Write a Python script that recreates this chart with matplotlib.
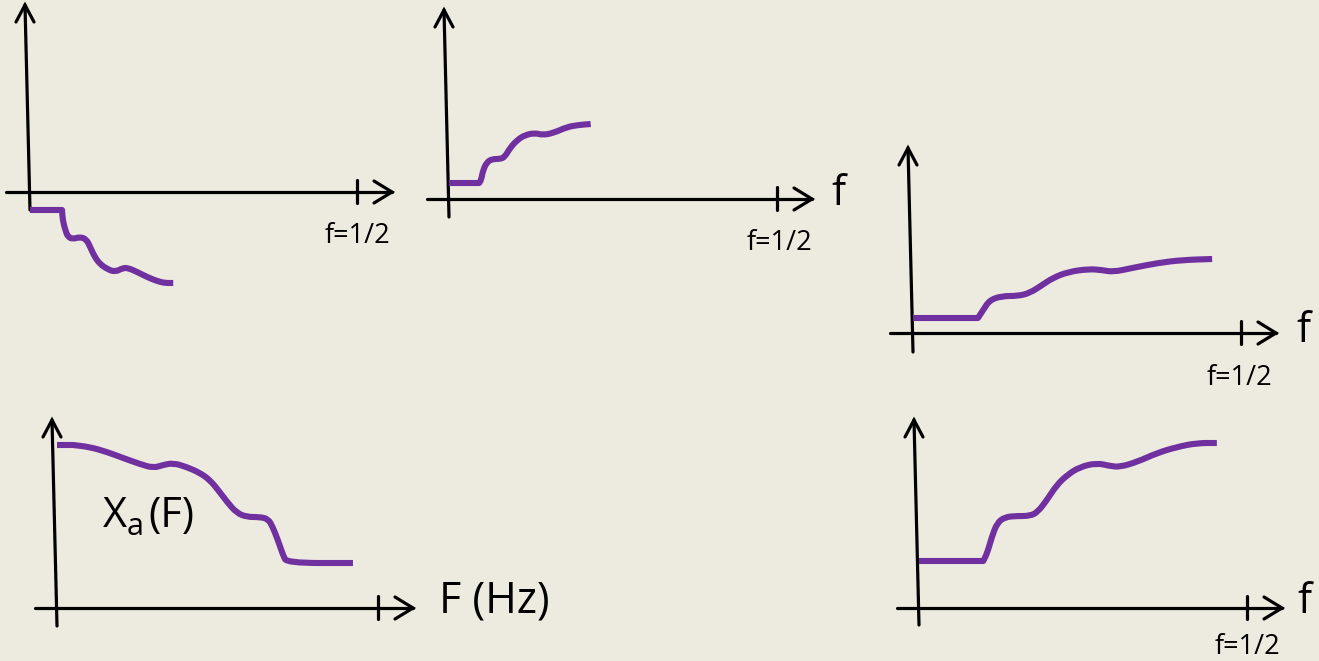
import matplotlib
matplotlib.use("Agg")
import matplotlib.pyplot as plt
from matplotlib.path import Path
from matplotlib.patches import PathPatch

# ---- spectra (x: normalised frequency f, or F for the analog one; y: amplitude) ----
# sampled spectrum, inverted below the axis
f1 = [0.000, 0.049, 0.050, 0.054, 0.058, 0.066, 0.076, 0.086, 0.092, 0.099, 0.107,
      0.118, 0.130, 0.142, 0.150, 0.164, 0.179, 0.194, 0.206, 0.219]
a1 = [-0.18, -0.18, -0.28, -0.38, -0.45, -0.47, -0.45, -0.47, -0.55, -0.65, -0.72,
      -0.77, -0.80, -0.76, -0.76, -0.80, -0.85, -0.89, -0.91, -0.91]

# compressed spectrum (top middle)
f2 = [0.000, 0.046, 0.049, 0.052, 0.058, 0.066, 0.078, 0.085, 0.093, 0.104, 0.116,
      0.131, 0.143, 0.159, 0.180, 0.197, 0.216]
a2 = [0.16, 0.16, 0.19, 0.29, 0.37, 0.40, 0.40, 0.42, 0.51, 0.59, 0.64,
      0.66, 0.64, 0.66, 0.72, 0.74, 0.75]

# stretched spectrum (right middle)
f3 = [0.000, 0.099, 0.107, 0.117, 0.136, 0.160, 0.178, 0.197, 0.213, 0.236, 0.267,
      0.288, 0.305, 0.334, 0.373, 0.410, 0.456]
a3 = [0.15, 0.15, 0.23, 0.33, 0.37, 0.37, 0.40, 0.48, 0.55, 0.61, 0.64,
      0.63, 0.61, 0.65, 0.70, 0.73, 0.74]

# analog spectrum Xa(F)
f4 = [0.000, 0.025, 0.051, 0.078, 0.103, 0.129, 0.150, 0.165, 0.181, 0.202, 0.223,
      0.238, 0.251, 0.265, 0.280, 0.296, 0.316, 0.329, 0.336, 0.344, 0.352, 0.358, 0.461]
a4 = [1.63, 1.63, 1.61, 1.56, 1.50, 1.44, 1.40, 1.43, 1.45, 1.41, 1.35,
      1.28, 1.18, 1.06, 0.95, 0.91, 0.91, 0.89, 0.81, 0.68, 0.53, 0.45, 0.45]

# stretched, taller spectrum (bottom right)
f5 = [0.000, 0.098, 0.104, 0.111, 0.119, 0.131, 0.149, 0.169, 0.181, 0.195, 0.210,
      0.226, 0.245, 0.271, 0.291, 0.306, 0.332, 0.363, 0.393, 0.424, 0.454]
a5 = [0.47, 0.47, 0.55, 0.71, 0.85, 0.91, 0.92, 0.92, 0.96, 1.08, 1.23,
      1.33, 1.41, 1.45, 1.42, 1.41, 1.46, 1.55, 1.61, 1.65, 1.65]

tick_label = "f=1/2"
axis_label_f = "f"
axis_label_F = "F (Hz)"

BG = "#EDEBE0"
PURPLE = "#7030A0"
INK = "black"

plt.rcParams["font.family"] = ["Open Sans", "DejaVu Sans"]

W, H = 1319, 661
fig = plt.figure(figsize=(W / 100, H / 100), dpi=100, facecolor=BG)

# pixel-space layer for the hand-drawn axes and labels
layer = fig.add_axes([0, 0, 1, 1])
layer.set_xlim(0, W)
layer.set_ylim(H, 0)
layer.axis("off")
layer.set_facecolor(BG)

AMP_PX = 100.0  # pixels per amplitude unit


def smooth_path(xs, ys):
    """Quadratic-Bezier path through the midpoints, using each sample as control."""
    pts = list(zip(xs, ys))
    verts = [pts[0], pts[1]]
    codes = [Path.MOVETO, Path.LINETO]  # the flat lead-in stays straight
    for i in range(1, len(pts) - 1):
        mid = ((pts[i][0] + pts[i + 1][0]) / 2, (pts[i][1] + pts[i + 1][1]) / 2)
        if i == 1:
            verts.append(mid)
            codes.append(Path.LINETO)
            continue
        verts += [pts[i], mid]
        codes += [Path.CURVE3, Path.CURVE3]
    verts.append(pts[-1])
    codes.append(Path.LINETO)
    return Path(verts, codes)


# origin (px), pixel x of the f=1/2 tick, left start of the x-axis, y-axis bottom/top
panels = [
    dict(f=f1, a=a1, ox=30, oy=192, tick=357, left=6, ybot=210, ytop=5,
         small=(325, 243), big=None),
    dict(f=f2, a=a2, ox=449, oy=199, tick=777, left=427, ybot=217, ytop=10,
         small=(747, 250), big=(831, 205, axis_label_f)),
    dict(f=f3, a=a3, ox=913, oy=333, tick=1241, left=890, ybot=352, ytop=148,
         small=(1207, 385), big=(1296, 342, axis_label_f)),
    dict(f=f4, a=a4, ox=57, oy=608, tick=378, left=35, ybot=626, ytop=420,
         small=None, big=(439, 612, axis_label_F)),
    dict(f=f5, a=a5, ox=919, oy=608, tick=1247, left=897, ybot=625, ytop=420,
         small=(1215, 654), big=(1297, 613, axis_label_f)),
]

AX_LW = 2.3
for p in panels:
    ox, oy = p["ox"], p["oy"]
    tip = p["tick"] + 35
    # x-axis with open arrow head and the f=1/2 tick
    layer.plot([p["left"], tip], [oy, oy], color=INK, lw=AX_LW, solid_capstyle="round")
    layer.plot([tip - 18, tip, tip - 18], [oy - 11, oy, oy + 11], color=INK, lw=AX_LW,
               solid_capstyle="round", solid_joinstyle="miter")
    layer.plot([p["tick"], p["tick"]], [oy - 12, oy + 11], color=INK, lw=AX_LW,
               solid_capstyle="round")
    # y-axis, drawn slightly slanted like a hand sketch
    xt = ox - 5
    layer.plot([ox, xt], [p["ybot"], p["ytop"]], color=INK, lw=AX_LW, solid_capstyle="round")
    layer.plot([xt - 9, xt, xt + 9], [p["ytop"] + 17, p["ytop"], p["ytop"] + 17], color=INK,
               lw=AX_LW, solid_capstyle="round", solid_joinstyle="miter")

    if p["small"] is not None:
        layer.text(p["small"][0], p["small"][1], tick_label, fontsize=19.5, color=INK,
                   ha="left", va="baseline")
    if p["big"] is not None:
        bx, by, txt = p["big"]
        fs = 31 if txt == axis_label_F else 30
        layer.text(bx, by, txt, fontsize=fs, color=INK, ha="left", va="baseline")

    # curve on its own data axes: f=0 -> origin, f=0.5 -> tick
    s = (p["tick"] - ox) / 0.5
    ax = fig.add_axes([0, 0, 1, 1])
    ax.set_xlim(-ox / s, (W - ox) / s)
    ax.set_ylim((oy - H) / AMP_PX, oy / AMP_PX)
    ax.axis("off")
    ax.patch.set_alpha(0)
    ax.add_patch(PathPatch(smooth_path(p["f"], p["a"]), fill=False, edgecolor=PURPLE,
                           lw=4.4, capstyle="butt", joinstyle="round"))

# curve label X_a(F) with a lowered subscript
layer.text(103, 527, "X", fontsize=30, color=INK, ha="left", va="baseline")
layer.text(127, 535, "a", fontsize=22, color=INK, ha="left", va="baseline")
layer.text(148, 527, "(F)", fontsize=30, color=INK, ha="left", va="baseline")

fig.savefig("out.png", dpi=100, facecolor=BG)
